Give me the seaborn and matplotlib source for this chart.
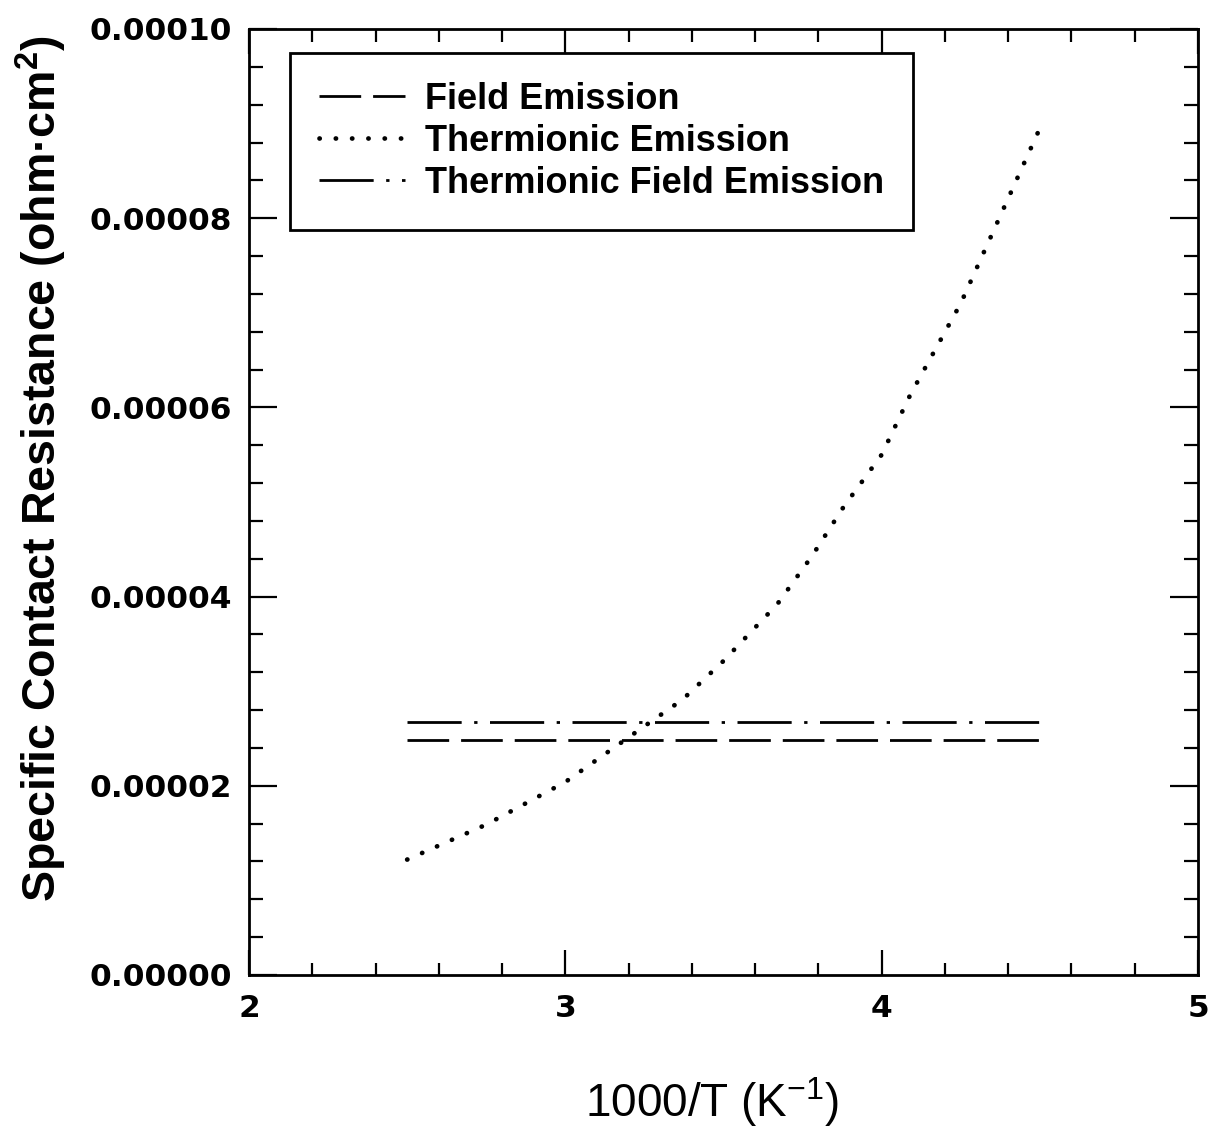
import matplotlib
matplotlib.use("Agg")
import matplotlib.pyplot as plt
from matplotlib.ticker import MultipleLocator, FormatStrFormatter, FixedLocator
import seaborn as sns
import pandas as pd

# ---- data ----
series_names = ["Field Emission", "Thermionic Emission", "Thermionic Field Emission"]

fe_x = [2.5, 4.5]
fe_y = [24.8e-6, 24.8e-6]

te_x = [2.5, 2.75, 3.0, 3.25, 3.37, 3.5, 3.67, 3.78, 3.88, 4.0, 4.09, 4.25, 4.5]
te_y = [12.2e-6, 15.9e-6, 20.4e-6, 26.3e-6, 29.1e-6, 33.2e-6, 39.2e-6, 44.3e-6,
        49.5e-6, 55.0e-6, 61.3e-6, 71.0e-6, 89.5e-6]

tfe_x = [2.5, 4.5]
tfe_y = [26.7e-6, 26.7e-6]

x_ticks = [2, 3, 4, 5]
y_ticks = [0.0, 0.00002, 0.00004, 0.00006, 0.00008, 0.00010]

df = pd.concat([
    pd.DataFrame({"x": fe_x, "y": fe_y, "series": series_names[0]}),
    pd.DataFrame({"x": te_x, "y": te_y, "series": series_names[1]}),
    pd.DataFrame({"x": tfe_x, "y": tfe_y, "series": series_names[2]}),
], ignore_index=True)

sns.set_theme(style="white")
plt.rcParams["font.family"] = ["Liberation Sans", "DejaVu Sans"]
plt.rcParams["mathtext.default"] = "regular"

fig = plt.figure(figsize=(12.2, 11.28), dpi=100)
ax = fig.add_axes([249 / 1220, 1 - 975 / 1128, (1198 - 249) / 1220, (975 - 29) / 1128])

styles = {
    series_names[0]: dict(lw=2.0, dashes=(15, 4.3), cap="butt"),
    series_names[1]: dict(lw=3.4, dashes=(0.05, 3.4), cap="round"),
    series_names[2]: dict(lw=2.0, dashes=(19.5, 4.5, 1.2, 4.5), cap="butt"),
}

handles = []
for name in series_names:
    sub = df[df["series"] == name]
    st = styles[name]
    before = len(ax.lines)
    sns.lineplot(data=sub, x="x", y="y", ax=ax, color="black", lw=st["lw"],
                 estimator=None, sort=True, legend=False)
    line = ax.lines[before]
    line.set_dashes(st["dashes"])
    line.set_dash_capstyle(st["cap"])
    line.set_label(name)
    handles.append(line)

ax.set_xlim(2, 5)
ax.set_ylim(0, 0.0001)
ax.xaxis.set_major_locator(FixedLocator(x_ticks))
ax.xaxis.set_minor_locator(MultipleLocator(0.2))
ax.yaxis.set_major_locator(FixedLocator(y_ticks))
ax.yaxis.set_minor_locator(MultipleLocator(0.000004))
ax.xaxis.set_major_formatter(FormatStrFormatter("%d"))
ax.yaxis.set_major_formatter(FormatStrFormatter("%.5f"))

ax.tick_params(which="both", direction="in", top=True, right=True, bottom=True, left=True,
               color="black", width=1.6)
ax.tick_params(axis="x", which="major", length=18, pad=14)
ax.tick_params(axis="x", which="minor", length=9)
ax.tick_params(axis="y", which="major", length=20, pad=12)
ax.tick_params(axis="y", which="minor", length=10)

for lab in ax.get_xticklabels() + ax.get_yticklabels():
    lab.set_fontfamily(["DejaVu Sans"])
    lab.set_fontweight("bold")
    lab.set_fontsize(22.5)
    lab.set_color("black")

for sp in ax.spines.values():
    sp.set_color("black")
    sp.set_linewidth(2.0)

ax.set_xlabel("1000/T (K$^{-1}$)", fontsize=33, color="black")
ax.xaxis.set_label_coords(0.488, -0.106)
ax.set_ylabel("Specific Contact Resistance (ohm·cm$^{2}$)", fontsize=33.5, fontweight="bold",
              color="black")
ax.yaxis.set_label_coords(-0.19, 0.535)

leg = ax.legend(handles=handles, labels=series_names, loc="upper left",
                bbox_to_anchor=(0.043, 0.975), borderaxespad=0,
                prop=dict(family="Liberation Sans", weight="bold", size=26),
                handlelength=2.4, handletextpad=0.55, labelspacing=0.2,
                borderpad=0.8, fancybox=False, frameon=True, edgecolor="black",
                framealpha=1)
leg.get_frame().set_linewidth(2.0)
for t in leg.get_texts():
    t.set_color("black")

fig.savefig("out.png", dpi=100, facecolor="white")
